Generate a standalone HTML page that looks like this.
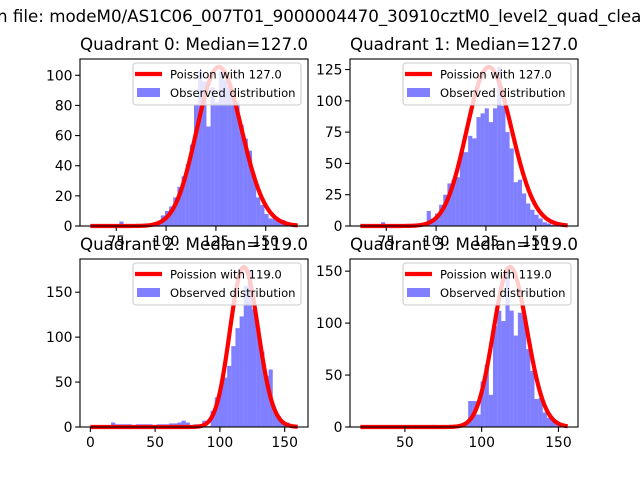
<!DOCTYPE html>
<html><head><meta charset="utf-8">
<style>
html,body{margin:0;padding:0;background:#fff;width:640px;height:480px;overflow:hidden}
svg{display:block;font-family:"DejaVu Sans","Liberation Sans",sans-serif}
</style></head>
<body>
<svg id="fig" width="640" height="480" viewBox="0 0 640 480">
<rect width="640" height="480" fill="#fff"/>
<text x="-3" y="22" font-size="16.7" fill="#000">n file: modeM0/AS1C06_007T01_9000004470_30910cztM0_level2_quad_clean.evt</text>
</svg>
<script>
// ---- data ----
const q0Counts = [1,1,1,1,1,1,0,3,1,1,1,0,1,1,1,2,3,7,10,13,19,26,33,41,54,81,103,96,66,92,82,103,97,93,85,82,67,58,50,34,19,14,8,5,5,3,4,2,1,1];
const q1Counts = [1,1,1,1,1,3,1,1,1,1,1,1,0,1,1,1,12,6,10,17,25,34,37,39,60,59,72,70,87,90,94,83,94,127,96,75,62,35,37,26,18,13,9,6,3,2,1,1,0,0];
const q2Counts = [2,1,1,2,2,5,3,3,3,3,1,3,3,3,3,1,3,3,3,4,4,5,7,5,1,3,3,7,1,18,33,44,55,68,90,110,123,157,175,131,110,84,57,64,20,12,5,5,1,1];
const q3Counts = [1,0,0,0,0,0,0,0,0,0,0,0,0,0,0,0,0,2,0,0,0,0,0,1,1,3,25,25,12,44,60,31,97,112,102,150,112,88,110,107,75,54,27,28,14,9,6,4,1,1];
const dataMin = [62,62,0,21];
const dataMax = [166,166,160,156];
const medians = [127.0,127.0,119.0,119.0];
const poissonNorm = [2980,3588,4867,4211];
const yTicks0 = [0,20,40,60,80,100];
const yTicks1 = [0,25,50,75,100,125];
const yTicks2 = [0,50,100,150];
const yTicks3 = [0,50,100,150];
const xTicks0 = [75,100,125,150];
const xTicks1 = [75,100,125,150];
const xTicks2 = [0,50,100,150];
const xTicks3 = [50,100,150];

const NS="http://www.w3.org/2000/svg";
const svg=document.getElementById('fig');
function mk(tag,attrs,parent){const e=document.createElementNS(NS,tag);for(const k in attrs)e.setAttribute(k,attrs[k]);(parent||svg).appendChild(e);return e;}
function lgamma(z){const g=7,c=[0.99999999999980993,676.5203681218851,-1259.1392167224028,771.32342877765313,-176.61502916214059,12.507343278686905,-0.13857109526572012,9.9843695780195716e-6,1.5056327351493116e-7];z-=1;let x=c[0];for(let i=1;i<g+2;i++)x+=c[i]/(z+i);const t=z+g+0.5;return 0.5*Math.log(2*Math.PI)+(z+0.5)*Math.log(t)-t+Math.log(x);}
function pmf(k,l){return Math.exp(k*Math.log(l)-l-lgamma(k+1));}

const counts=[q0Counts,q1Counts,q2Counts,q3Counts];
const yT=[yTicks0,yTicks1,yTicks2,yTicks3];
const xT=[xTicks0,xTicks1,xTicks2,xTicks3];
const boxes=[[80,59,308,226],[350,59,578,226],[80,259,308,427],[350,259,578,427]];

for(let q=0;q<4;q++){
  const [L,T,R,B]=boxes[q];
  const g=mk('g',{});
  
  
  const c=counts[q], n=c.length, lo=dataMin[q], hi=dataMax[q], w=(hi-lo)/n;
  const pts=[];
  for(let i=0;i<=200;i++){const x=lo+(hi-lo)*i/200;pts.push([x,pmf(x,medians[q])*poissonNorm[q]]);}
  const ymaxData=Math.max(Math.max(...c),...pts.map(p=>p[1]));
  const y1=ymaxData*1.05, mg=(hi-lo)*0.05, x0=lo-mg, x1=hi+mg;
  const sx=v=>L+(v-x0)/(x1-x0)*(R-L);
  const sy=v=>B-v/y1*(B-T);
  for(let i=0;i<n;i++){
    if(c[i]<=0)continue;
    const b=mk('rect',{x:sx(lo+i*w),y:sy(c[i]),width:sx(lo+(i+1)*w)-sx(lo+i*w),height:B-sy(c[i]),fill:'#0000ff','fill-opacity':0.5},g);
    
    
  }
  const pl=mk('polyline',{points:pts.map(p=>sx(p[0]).toFixed(2)+','+sy(p[1]).toFixed(2)).join(' '),fill:'none',stroke:'#ff0000','stroke-width':4.2,'stroke-linejoin':'round'},g);
  
  
  const fr=mk('rect',{x:L,y:T,width:R-L,height:B-T,fill:'none',stroke:'#000','stroke-width':1.1},g);
  
  
  for(const v of yT[q]){
    const y=sy(v);
    mk('line',{x1:L-4.9,x2:L,y1:y,y2:y,stroke:'#000','stroke-width':1.1},g);
    const t=mk('text',{x:L-7.5,y:y+5,'font-size':13.9,'text-anchor':'end',fill:'#000'},g);
    t.textContent=v;
    
    
  }
  for(const v of xT[q]){
    const x=sx(v);
    mk('line',{x1:x,x2:x,y1:B,y2:B+4.9,stroke:'#000','stroke-width':1.1},g);
    const t=mk('text',{x:x,y:B+20,'font-size':13.9,'text-anchor':'middle',fill:'#000'},g);
    t.textContent=v;
    
    
  }
  const tt=mk('text',{x:(L+R)/2,y:T-9,'font-size':16.7,'text-anchor':'middle',fill:'#000'},g);
  tt.textContent='Quadrant '+q+': Median='+medians[q].toFixed(1);
  
  
  const lg=mk('g',{},g);
  
  
  mk('rect',{x:R-175,y:T+4,width:168,height:42,rx:3,fill:'#fff','fill-opacity':0.8,stroke:'#cccccc','stroke-width':1.1},lg);
  mk('line',{x1:R-173,x2:R-146,y1:T+15,y2:T+15,stroke:'#ff0000','stroke-width':4.2},lg);
  const t1=mk('text',{x:R-138,y:T+19.5,'font-size':11.6,fill:'#000'},lg);
  t1.textContent='Poission with '+medians[q].toFixed(1);
  
  
  mk('rect',{x:R-171,y:T+29,width:23,height:9,fill:'#0000ff','fill-opacity':0.5},lg);
  const t2=mk('text',{x:R-138,y:T+38,'font-size':11.6,fill:'#000'},lg);
  t2.textContent='Observed distribution';
  
  
}
</script>
</body></html>
